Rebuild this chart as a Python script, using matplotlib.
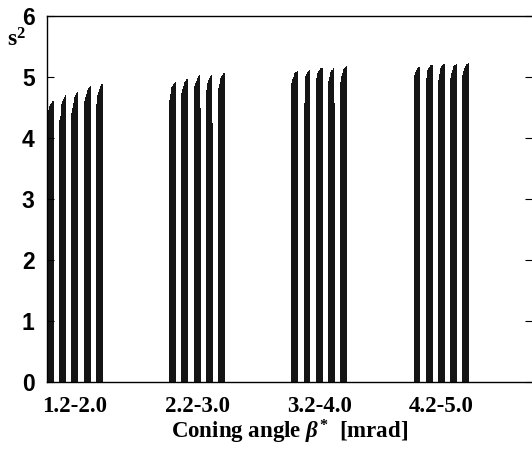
import numpy as np
from matplotlib import pyplot as plt

plt.rcParams["mathtext.fontset"] = "custom"
plt.rcParams["mathtext.rm"] = "Liberation Serif:bold"
plt.rcParams["mathtext.bf"] = "Liberation Serif:bold"
plt.rcParams["mathtext.it"] = "Liberation Serif:italic:bold"

# coning angle ranges (one group of 5 clusters each, 9 beta steps per cluster)
groups = ["1.2-2.0", "2.2-3.0", "3.2-4.0", "4.2-5.0"]

s2_g1 = [
    [4.33, 4.46, 4.50, 4.53, 4.55, 4.57, 4.59, 4.60, 4.61],
    [4.30, 4.36, 4.48, 4.55, 4.60, 4.64, 4.67, 4.69, 4.70],
    [4.41, 4.50, 4.58, 4.64, 4.68, 4.71, 4.74, 4.75, 4.76],
    [4.52, 4.60, 4.67, 4.72, 4.76, 4.79, 4.82, 4.84, 4.85],
    [4.55, 4.64, 4.71, 4.76, 4.80, 4.83, 4.86, 4.88, 4.89],
]
s2_g2 = [
    [4.62, 4.72, 4.78, 4.83, 4.86, 4.88, 4.90, 4.91, 4.92],
    [4.74, 4.80, 4.85, 4.89, 4.92, 4.94, 4.96, 4.97, 4.98],
    [4.79, 4.85, 4.90, 4.94, 4.97, 4.99, 5.01, 5.03, 4.49],
    [4.79, 4.86, 4.91, 4.95, 4.98, 5.00, 5.02, 5.03, 4.24],
    [4.82, 4.89, 4.94, 4.98, 5.01, 5.03, 5.05, 5.06, 5.07],
]
s2_g3 = [
    [4.90, 4.96, 5.00, 5.04, 5.06, 5.08, 5.09, 5.10, 5.11],
    [4.98, 4.57, 5.02, 5.05, 5.07, 5.09, 5.10, 5.11, 5.11],
    [4.98, 5.03, 5.07, 5.10, 5.12, 5.13, 5.14, 5.15, 5.15],
    [4.93, 5.00, 5.05, 5.08, 5.11, 5.12, 5.14, 5.15, 4.57],
    [4.92, 5.01, 5.07, 5.11, 5.13, 5.15, 5.16, 5.17, 5.18],
]
s2_g4 = [
    [4.95, 5.03, 5.08, 5.11, 5.13, 5.15, 5.16, 5.17, 4.27],
    [4.98, 5.06, 5.11, 5.14, 5.16, 5.18, 5.19, 5.20, 5.20],
    [4.95, 5.05, 5.11, 5.15, 5.18, 5.20, 5.21, 5.22, 5.22],
    [4.98, 5.06, 5.12, 5.16, 5.18, 5.19, 5.20, 5.21, 5.21],
    [5.03, 5.10, 5.15, 5.18, 5.20, 5.21, 5.22, 5.23, 5.23],
]
all_groups = [s2_g1, s2_g2, s2_g3, s2_g4]

fig = plt.figure(figsize=(5.32, 4.49), dpi=100)
ax = fig.add_axes([0.0883, 0.1492, 0.9117, 0.8151])

cluster_step = 16
group_step = 160
for g, clusters in enumerate(all_groups):
    for c, vals in enumerate(clusters):
        x = g * group_step + c * cluster_step + np.arange(len(vals))
        ax.bar(x, vals, width=1.0, color="#151515", linewidth=0)

ax.set_xlim(-0.5, 634.5)
ax.set_ylim(0, 6)
ax.set_yticks(range(7))
ax.set_xticks([g * group_step + 2 * cluster_step + 4 for g in range(len(groups))])
ax.set_xticklabels(groups, fontfamily="Liberation Serif", fontweight="bold", fontsize=16.5)
for lab in ax.get_yticklabels():
    lab.set_fontfamily("Liberation Sans")
    lab.set_fontweight("bold")
    lab.set_fontsize(16.5)
ax.tick_params(axis="y", direction="in", length=5, right=True, pad=9)
ax.tick_params(axis="x", direction="in", length=0, pad=10)
for sp in ax.spines.values():
    sp.set_linewidth(1.0)
ax.spines["right"].set_visible(False)

ax.set_xlabel(r"Coning angle $\beta^{*}$  [mrad]", fontfamily="Liberation Serif",
              fontweight="bold", fontsize=16.5, labelpad=1)
fig.text(0.014, 0.897, r"$\mathrm{s^2}$", fontsize=17)

plt.savefig("out.png")
